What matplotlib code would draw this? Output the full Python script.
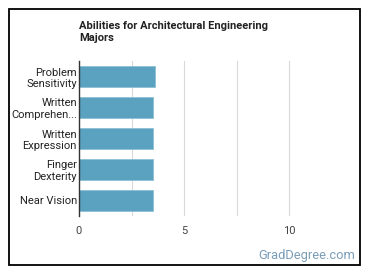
import matplotlib
matplotlib.use("Agg")
import matplotlib.pyplot as plt
from matplotlib.patches import Rectangle

categories = ["Problem\nSensitivity", "Written\nComprehen...", "Written\nExpression", "Finger\nDexterity", "Near Vision"]
values = [3.62, 3.5, 3.5, 3.5, 3.5]
xticks = [0, 5, 10]
title = "Abilities for Architectural Engineering\nMajors"

W, H = 370, 278
fig = plt.figure(figsize=(W/100, H/100), dpi=100)
plt.rcParams['font.family'] = ['Roboto', 'DejaVu Sans']

def fx(px): return px / W
def fy(py): return 1 - py / H

ax = fig.add_axes([fx(79), fy(216), fx(341.5) - fx(79), (216 - 61) / H])
ypos = list(range(len(categories)))
ax.barh(ypos, values, height=0.65, color="#5aa2bf", edgecolor="#8cc0d4", linewidth=0.6, zorder=3)
ax.set_ylim(len(categories) - 0.5, -0.5)
ax.set_xlim(0, 12.5)
ax.set_yticks(ypos)
ax.set_yticklabels(categories, fontsize=8.0, color="#222222", linespacing=1.2)
ax.set_xticks(xticks)
ax.set_xticklabels([str(t) for t in xticks], fontsize=8.0, color="#444444")
ax.set_xticks([2.5, 7.5], minor=True)
ax.tick_params(axis='both', which='both', length=0)
ax.tick_params(axis='y', which='both', pad=1.5)
ax.tick_params(axis='x', which='both', pad=7)
ax.grid(axis='x', which='both', color="#d9d9d9", linewidth=0.8, zorder=0)
for s in ["top", "right", "bottom"]:
    ax.spines[s].set_visible(False)
ax.spines["left"].set_color("#333333")
ax.spines["left"].set_linewidth(1.0)
ax.spines["left"].set_zorder(4)

fig.text(fx(79), fy(21), title, fontsize=8.0, fontweight='bold', color="#222222",
         va='top', ha='left', linespacing=1.3)
fig.text(fx(355), fy(256), "GradDegree.com", fontsize=9.3, color="#7a9db8", ha='right', va='center')

fig.patches.append(Rectangle((fx(8.5), fy(265)), fx(360) - fx(8.5), (265 - 8.5) / H,
                             transform=fig.transFigure, fill=False, edgecolor="black", linewidth=1.3))

fig.savefig("out.png", dpi=100, facecolor="white")
